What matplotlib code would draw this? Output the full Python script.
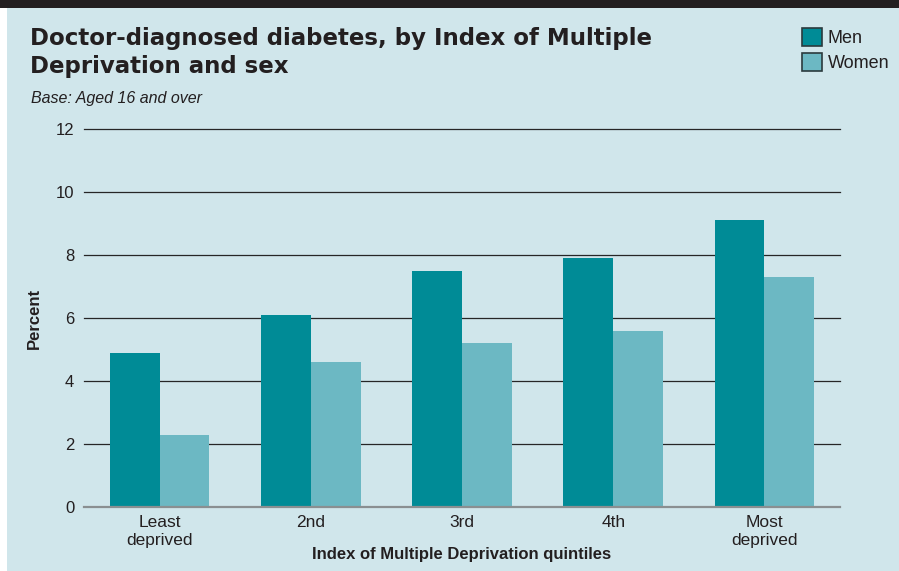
import numpy as np
import matplotlib
matplotlib.use('Agg')
import matplotlib.pyplot as plt
from matplotlib.patches import Rectangle

plt.rcParams['font.family'] = ['Liberation Sans', 'DejaVu Sans']

# Prevalence of doctor-diagnosed diabetes (%) by IMD quintile
quintiles = ['Least\ndeprived', '2nd', '3rd', '4th', 'Most\ndeprived']
men = [4.9, 6.1, 7.5, 7.9, 9.1]
women = [2.3, 4.6, 5.2, 5.6, 7.3]
y_ticks = [0, 2, 4, 6, 8, 10, 12]

bg = '#d0e6eb'
men_col = '#008b96'
women_col = '#6cb8c3'
text_col = '#231f20'

W, H = 899, 571
fig = plt.figure(figsize=(W / 100, H / 100), dpi=100)
fig.patch.set_facecolor('white')

# panel background and dark strip at the top
fig.patches.append(Rectangle((7 / W, 0), 1 - 7 / W, 1, transform=fig.transFigure,
                             facecolor=bg, edgecolor='none', zorder=-10))
fig.patches.append(Rectangle((0, 1 - 8 / H), 1, 8 / H, transform=fig.transFigure,
                             facecolor='#231f20', edgecolor='none', zorder=-9))

ax = fig.add_axes([84 / W, (H - 507) / H, 756 / W, 378 / H])
ax.set_zorder(1)
ax.set_facecolor('none')

x = np.arange(len(quintiles))
w = 0.33
ax.bar(x - w / 2, men, width=w, color=men_col, label='Men', zorder=3)
ax.bar(x + w / 2, women, width=w, color=women_col, label='Women', zorder=3)

ax.set_xlim(-0.5, len(quintiles) - 0.5)
ax.set_ylim(0, 12)
ax.set_yticks(y_ticks)
ax.set_yticklabels([str(t) for t in y_ticks], fontsize=12, color=text_col)
ax.set_xticks(x)
ax.set_xticklabels(quintiles, fontsize=12.5, color=text_col, linespacing=1.25)
ax.tick_params(axis='both', length=0)
ax.tick_params(axis='y', pad=7)
ax.tick_params(axis='x', pad=6)

for t in y_ticks[1:]:
    ax.axhline(t, color='#262626', lw=0.9, zorder=1, clip_on=False)
for s in ['top', 'right', 'left']:
    ax.spines[s].set_visible(False)
ax.spines['bottom'].set_color('#8a8f91')
ax.spines['bottom'].set_linewidth(1.6)
ax.spines['bottom'].set_zorder(4)

ax.set_ylabel('Percent', fontsize=12, fontweight='bold', color=text_col, labelpad=10)
ax.set_xlabel('Index of Multiple Deprivation quintiles', fontsize=12,
              fontweight='bold', color=text_col, labelpad=-1)

fig.text(30 / W, 1 - 27 / H, 'Doctor-diagnosed diabetes, by Index of Multiple\nDeprivation and sex',
         fontsize=16.5, fontweight='heavy', family='DejaVu Sans', color=text_col,
         va='top', ha='left', linespacing=1.3)
fig.text(31 / W, 1 - 99 / H, 'Base: Aged 16 and over', fontsize=11.5, style='italic',
         color=text_col, va='center', ha='left')

leg = fig.legend(loc='upper left', bbox_to_anchor=(795 / W, 1 - 21 / H), frameon=False,
                 fontsize=13, handlelength=1.1, handleheight=1.1, handletextpad=0.3,
                 labelspacing=0.35, borderaxespad=0)
for p in leg.get_patches():
    p.set_edgecolor('#2b3a3d')
    p.set_linewidth(1.2)
for t in leg.get_texts():
    t.set_color(text_col)

fig.savefig('out.png', dpi=100, facecolor=fig.get_facecolor())
